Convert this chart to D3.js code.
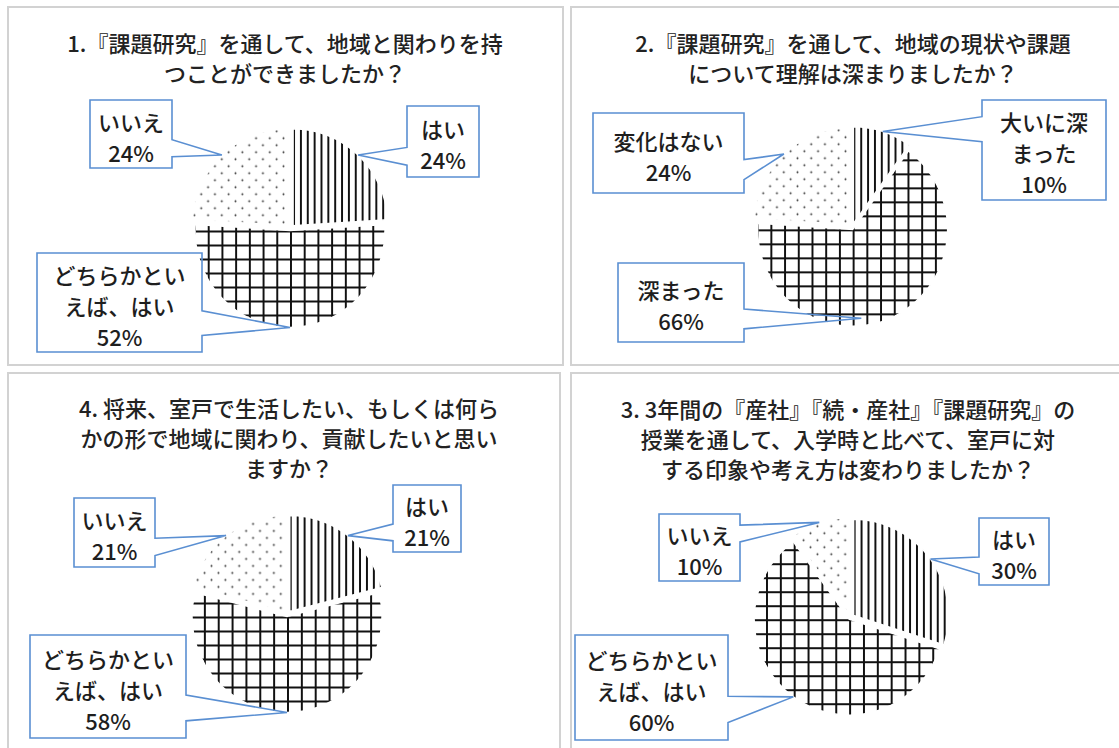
<!DOCTYPE html>
<html>
<head>
<meta charset="utf-8">
<script src="https://cdn.jsdelivr.net/npm/d3@7"></script>
<style>
  body { margin: 0; background: #fff; }
  svg { display: block; }
  text { font-family: "Noto Sans CJK JP", "Noto Sans", sans-serif; }
</style>
</head>
<body>
<svg id="chart" width="1119" height="748"></svg>
<script>
// survey answers, one block per question
var q1Title = ["1.『課題研究』を通して、地域と関わりを持", "つことができましたか？"];
var q1Categories = ["はい", "どちらかといえば、はい", "いいえ"];
var q1Values = [24, 52, 24];
var q1Labels = [["はい"], ["どちらかとい", "えば、はい"], ["いいえ"]];

var q2Title = ["2.『課題研究』を通して、地域の現状や課題", "について理解は深まりましたか？"];
var q2Categories = ["大いに深まった", "深まった", "変化はない"];
var q2Values = [10, 66, 24];
var q2Labels = [["大いに深", "まった"], ["深まった"], ["変化はない"]];

var q3Title = ["3. 3年間の『産社』『続・産社』『課題研究』の", "授業を通して、入学時と比べて、室戸に対", "する印象や考え方は変わりましたか？"];
var q3Categories = ["はい", "どちらかといえば、はい", "いいえ"];
var q3Values = [30, 60, 10];
var q3Labels = [["はい"], ["どちらかとい", "えば、はい"], ["いいえ"]];

var q4Title = ["4. 将来、室戸で生活したい、もしくは何ら", "かの形で地域に関わり、貢献したいと思い", "ますか？"];
var q4Categories = ["はい", "どちらかといえば、はい", "いいえ"];
var q4Values = [21, 58, 21];
var q4Labels = [["はい"], ["どちらかとい", "えば、はい"], ["いいえ"]];

// where each panel sits on the page
var layout = [
  { q: [q1Title, q1Categories, q1Values, q1Labels],
    frame: [8, 7, 555, 358], titleX: 285, titleY: 42,
    pie: { cx: 290, cy: 229, rx: 95, ry: 97 },
    boxes: [[407, 106, 72, 71], [37, 253, 165, 99], [90, 100, 82, 68]],
    anchors: [null, null, null] },
  { q: [q2Title, q2Categories, q2Values, q2Labels],
    frame: [571, 7, 560, 358], titleX: 853, titleY: 42,
    pie: { cx: 852, cy: 228, rx: 95, ry: 97 },
    boxes: [[982, 100, 124, 100], [618, 263, 126, 79], [593, 113, 151, 80]],
    anchors: [null, [174, 0.92], null] },
  { q: [q4Title, q4Categories, q4Values, q4Labels],
    frame: [8, 373, 552, 385], titleX: 289, titleY: 407,
    pie: { cx: 287, cy: 615, rx: 95, ry: 96 },
    boxes: [[393, 485, 68, 67], [30, 635, 156, 103], [74, 498, 81, 69]],
    anchors: [null, null, null] },
  { q: [q3Title, q3Categories, q3Values, q3Labels],
    frame: [571, 373, 560, 385], titleX: 848, titleY: 408,
    pie: { cx: 850, cy: 618, rx: 95, ry: 96 },
    boxes: [[979, 518, 70, 67], [575, 635, 153, 105], [659, 514, 81, 67]],
    anchors: [null, null, null] }
];

var svg = d3.select("#chart");
var defs = svg.append("defs");

// hatch fills: vertical lines, grid, dots
var pv = defs.append("pattern").attr("id", "pat-0")
  .attr("patternUnits", "userSpaceOnUse").attr("width", 7).attr("height", 7);
pv.append("rect").attr("width", 7).attr("height", 7).attr("fill", "#fff");
pv.append("rect").attr("width", 2).attr("height", 7).attr("fill", "#111");

var pg = defs.append("pattern").attr("id", "pat-1")
  .attr("patternUnits", "userSpaceOnUse").attr("width", 14).attr("height", 14);
pg.append("rect").attr("width", 14).attr("height", 14).attr("fill", "#fff");
pg.append("rect").attr("width", 2).attr("height", 14).attr("fill", "#111");
pg.append("rect").attr("width", 14).attr("height", 2).attr("fill", "#111");

var pd = defs.append("pattern").attr("id", "pat-2")
  .attr("patternUnits", "userSpaceOnUse").attr("width", 14).attr("height", 14);
pd.append("rect").attr("width", 14).attr("height", 14).attr("fill", "#fff");
pd.append("circle").attr("cx", 3.5).attr("cy", 3.5).attr("r", 1).attr("fill", "#333");
pd.append("circle").attr("cx", 10.5).attr("cy", 10.5).attr("r", 1).attr("fill", "#333");

var pie = d3.pie().sort(null).value(function(d) { return d; });

/* speech-bubble box with a wedge pointing at TIP (office style) */
function calloutPath(b, tip) {
  var x = b[0], y = b[1], w = b[2], h = b[3];
  var r = x + w, bt = y + h;
  var dxPos = tip[0] - (x + w / 2), dyPos = tip[1] - (y + h / 2);
  var t = tip[0] + "," + tip[1];
  if (Math.abs(dxPos * h / w) > Math.abs(dyPos)) {
    var y1 = y + h * (dyPos > 0 ? 7 : 2) / 12, y2 = y + h * (dyPos > 0 ? 10 : 5) / 12;
    if (dxPos > 0) return "M" + x + "," + y + "H" + r + "V" + y1 + "L" + t + "L" + r + "," + y2 + "V" + bt + "H" + x + "Z";
    return "M" + x + "," + y + "H" + r + "V" + bt + "H" + x + "V" + y2 + "L" + t + "L" + x + "," + y1 + "Z";
  }
  var x1 = x + w * (dxPos > 0 ? 7 : 2) / 12, x2 = x + w * (dxPos > 0 ? 10 : 5) / 12;
  if (dyPos > 0) return "M" + x + "," + y + "H" + r + "V" + bt + "H" + x2 + "L" + t + "L" + x1 + "," + bt + "H" + x + "Z";
  return "M" + x + "," + y + "H" + x1 + "L" + t + "L" + x2 + "," + y + "H" + r + "V" + bt + "H" + x + "Z";
}

layout.forEach(function(p) {
  var title = p.q[0], values = p.q[2], labels = p.q[3];
  var g = svg.append("g");

  g.append("rect")
    .attr("x", p.frame[0]).attr("y", p.frame[1])
    .attr("width", p.frame[2]).attr("height", p.frame[3])
    .attr("fill", "#fff").attr("stroke", "#d2d2d2").attr("stroke-width", 2);

  g.selectAll(".title")
    .data(title)
    .enter()
    .append("text")
    .attr("class", "title")
    .attr("x", p.titleX)
    .attr("y", function(d, i) { return p.titleY + i * 30; })
    .attr("text-anchor", "middle")
    .attr("dominant-baseline", "central")
    .attr("font-size", 22)
    .attr("font-weight", 500)
    .attr("fill", "#222")
    .text(function(d) { return d; });

  var c = p.pie;
  var arcs = pie(values);
  var maxV = d3.max(values);
  var arc = d3.arc().innerRadius(0).outerRadius(c.ry);
  var explode = function(d) { return d.value === maxV ? 1.5 : 4.5; };

  g.selectAll(".slice")
    .data(arcs)
    .enter()
    .append("path")
    .attr("class", "slice")
    .attr("d", arc)
    .attr("transform", function(d) {
      var m = (d.startAngle + d.endAngle) / 2, e = explode(d);
      return "translate(" + (c.cx + e * Math.sin(m)) + "," + (c.cy - e * Math.cos(m)) + ") scale(" + (c.rx / c.ry) + ",1)";
    })
    .attr("fill", function(d, i) { return "url(#pat-" + i + ")"; })
    .attr("stroke", "#fff")
    .attr("stroke-width", 1.5);

  // callout boxes (outline only, wedge lines run over the pie)
  arcs.forEach(function(d, i) {
    var m = (d.startAngle + d.endAngle) / 2, rf = 1.0, e = explode(d);
    if (p.anchors[i]) { m = p.anchors[i][0] * Math.PI / 180; rf = p.anchors[i][1]; }
    var tip = [c.cx + (e + c.rx * rf) * Math.sin(m), c.cy - (e + c.ry * rf) * Math.cos(m)];
    var b = p.boxes[i];
    g.append("path")
      .attr("d", calloutPath(b, tip))
      .attr("fill", "none")
      .attr("stroke", "#5a8fd2")
      .attr("stroke-width", 1.6)
      .attr("stroke-linejoin", "miter");
    var lines = labels[i].concat([d.value + "%"]);
    var mid = b[1] + b[3] / 2 + 2;
    g.selectAll(null)
      .data(lines)
      .enter()
      .append("text")
      .attr("x", b[0] + b[2] / 2)
      .attr("y", function(t, j) { return mid + (j - (lines.length - 1) / 2) * 31; })
      .attr("text-anchor", "middle")
      .attr("dominant-baseline", "central")
      .attr("font-size", 22)
      .attr("font-weight", 500)
      .attr("fill", "#1e1e1e")
      .text(function(t) { return t; });
  });
});
</script>
</body>
</html>
